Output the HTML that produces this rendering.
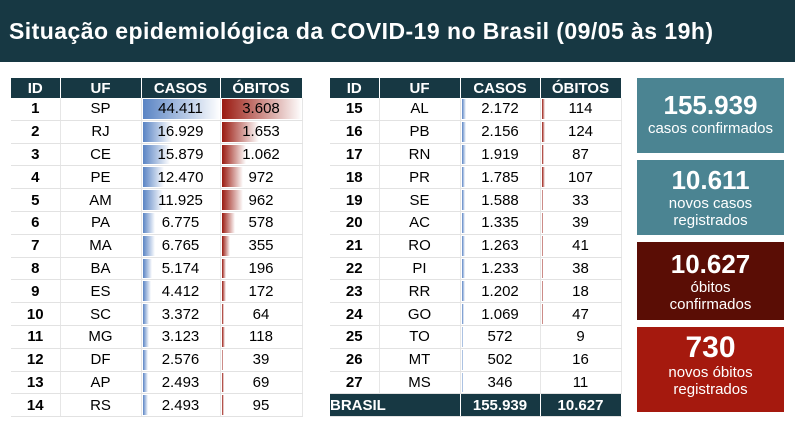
<!DOCTYPE html>
<html><head><meta charset="utf-8"><style>
body{margin:0;width:795px;height:446px;background:#fff;position:relative;overflow:hidden;font-family:"Liberation Sans",sans-serif}
.hdr{position:absolute;left:0;top:0;width:795px;height:62px;background:#173843;color:#fff;font-size:23px;font-weight:bold;line-height:62px;padding-left:9px;box-sizing:border-box;letter-spacing:0.45px}
table{position:absolute;top:78px;border-collapse:collapse;table-layout:fixed;font-size:15px}
td,th{padding:0;text-align:center;height:21.8px;line-height:17px;border-bottom:1px solid #e2e2e2;border-right:1px solid #e6e6e6;position:relative}
th{background:#173843;color:#fff;font-weight:bold;height:20px;border-right:1px solid #fff;border-bottom:none}
td.id{font-weight:bold}
.b{position:absolute;left:1px;top:1px;bottom:1px}
.bl{background:linear-gradient(to right,#5a84c4,#fff)}
.rd{background:linear-gradient(to right,#9a1a10,#fff)}
td span{position:relative}
tr.tot td{background:#173843;color:#fff;font-weight:bold;border-right:1px solid #fff}
.box{position:absolute;left:637px;width:147px;color:#fff;text-align:center;font-size:15px;line-height:17px}
.box b{display:block;font-size:26px;line-height:29px}
</style></head><body>
<div class="hdr">Situação epidemiológica da COVID-19 no Brasil (09/05 às 19h)</div>

<table style="left:11px;width:291px">
<colgroup><col style="width:49px"><col style="width:81px"><col style="width:79px"><col style="width:82px"></colgroup>
<tr><th>ID</th><th>UF</th><th>CASOS</th><th>ÓBITOS</th></tr>
<tr><td class="id">1</td><td>SP</td><td><div class="b bl" style="width:77px"></div><span>44.411</span></td><td><div class="b rd" style="width:80px"></div><span>3.608</span></td></tr>
<tr><td class="id">2</td><td>RJ</td><td><div class="b bl" style="width:29px"></div><span>16.929</span></td><td><div class="b rd" style="width:37px"></div><span>1.653</span></td></tr>
<tr><td class="id">3</td><td>CE</td><td><div class="b bl" style="width:27px"></div><span>15.879</span></td><td><div class="b rd" style="width:24px"></div><span>1.062</span></td></tr>
<tr><td class="id">4</td><td>PE</td><td><div class="b bl" style="width:21px"></div><span>12.470</span></td><td><div class="b rd" style="width:21px"></div><span>972</span></td></tr>
<tr><td class="id">5</td><td>AM</td><td><div class="b bl" style="width:20px"></div><span>11.925</span></td><td><div class="b rd" style="width:21px"></div><span>962</span></td></tr>
<tr><td class="id">6</td><td>PA</td><td><div class="b bl" style="width:12px"></div><span>6.775</span></td><td><div class="b rd" style="width:13px"></div><span>578</span></td></tr>
<tr><td class="id">7</td><td>MA</td><td><div class="b bl" style="width:12px"></div><span>6.765</span></td><td><div class="b rd" style="width:8px"></div><span>355</span></td></tr>
<tr><td class="id">8</td><td>BA</td><td><div class="b bl" style="width:9px"></div><span>5.174</span></td><td><div class="b rd" style="width:4px"></div><span>196</span></td></tr>
<tr><td class="id">9</td><td>ES</td><td><div class="b bl" style="width:8px"></div><span>4.412</span></td><td><div class="b rd" style="width:4px"></div><span>172</span></td></tr>
<tr><td class="id">10</td><td>SC</td><td><div class="b bl" style="width:6px"></div><span>3.372</span></td><td><div class="b rd" style="width:2px"></div><span>64</span></td></tr>
<tr><td class="id">11</td><td>MG</td><td><div class="b bl" style="width:6px"></div><span>3.123</span></td><td><div class="b rd" style="width:3px"></div><span>118</span></td></tr>
<tr><td class="id">12</td><td>DF</td><td><div class="b bl" style="width:5px"></div><span>2.576</span></td><td><div class="b rd" style="width:1px"></div><span>39</span></td></tr>
<tr><td class="id">13</td><td>AP</td><td><div class="b bl" style="width:5px"></div><span>2.493</span></td><td><div class="b rd" style="width:2px"></div><span>69</span></td></tr>
<tr><td class="id">14</td><td>RS</td><td><div class="b bl" style="width:5px"></div><span>2.493</span></td><td><div class="b rd" style="width:2px"></div><span>95</span></td></tr>
</table>

<table style="left:330px;width:291px">
<colgroup><col style="width:49px"><col style="width:81px"><col style="width:80px"><col style="width:81px"></colgroup>
<tr><th>ID</th><th>UF</th><th>CASOS</th><th>ÓBITOS</th></tr>
<tr><td class="id">15</td><td>AL</td><td><div class="b bl" style="width:4px"></div><span>2.172</span></td><td><div class="b rd" style="width:3px"></div><span>114</span></td></tr>
<tr><td class="id">16</td><td>PB</td><td><div class="b bl" style="width:4px"></div><span>2.156</span></td><td><div class="b rd" style="width:3px"></div><span>124</span></td></tr>
<tr><td class="id">17</td><td>RN</td><td><div class="b bl" style="width:4px"></div><span>1.919</span></td><td><div class="b rd" style="width:2px"></div><span>87</span></td></tr>
<tr><td class="id">18</td><td>PR</td><td><div class="b bl" style="width:3px"></div><span>1.785</span></td><td><div class="b rd" style="width:3px"></div><span>107</span></td></tr>
<tr><td class="id">19</td><td>SE</td><td><div class="b bl" style="width:3px"></div><span>1.588</span></td><td><div class="b rd" style="width:1px"></div><span>33</span></td></tr>
<tr><td class="id">20</td><td>AC</td><td><div class="b bl" style="width:3px"></div><span>1.335</span></td><td><div class="b rd" style="width:1px"></div><span>39</span></td></tr>
<tr><td class="id">21</td><td>RO</td><td><div class="b bl" style="width:3px"></div><span>1.263</span></td><td><div class="b rd" style="width:1px"></div><span>41</span></td></tr>
<tr><td class="id">22</td><td>PI</td><td><div class="b bl" style="width:3px"></div><span>1.233</span></td><td><div class="b rd" style="width:1px"></div><span>38</span></td></tr>
<tr><td class="id">23</td><td>RR</td><td><div class="b bl" style="width:3px"></div><span>1.202</span></td><td><div class="b rd" style="width:1px"></div><span>18</span></td></tr>
<tr><td class="id">24</td><td>GO</td><td><div class="b bl" style="width:2px"></div><span>1.069</span></td><td><div class="b rd" style="width:1px"></div><span>47</span></td></tr>
<tr><td class="id">25</td><td>TO</td><td><div class="b bl" style="width:1px"></div><span>572</span></td><td><span>9</span></td></tr>
<tr><td class="id">26</td><td>MT</td><td><div class="b bl" style="width:1px"></div><span>502</span></td><td><span>16</span></td></tr>
<tr><td class="id">27</td><td>MS</td><td><div class="b bl" style="width:1px"></div><span>346</span></td><td><span>11</span></td></tr>
<tr class="tot"><td colspan="2" style="text-align:left;border-right:1px solid #fff">BRASIL</td><td>155.939</td><td>10.627</td></tr>
</table>

<div class="box" style="top:78px;height:75px;background:#4b8492"><div style="padding-top:13px"><b>155.939</b>casos confirmados</div></div>
<div class="box" style="top:160px;height:75px;background:#4b8492"><div style="padding-top:6px"><b>10.611</b>novos casos<br>registrados</div></div>
<div class="box" style="top:242px;height:78px;background:#5a0d05"><div style="padding-top:8px"><b>10.627</b>óbitos<br>confirmados</div></div>
<div class="box" style="top:327px;height:85px;background:#a5190e"><div style="padding-top:4px"><b style="font-size:30px;line-height:33px">730</b>novos óbitos<br>registrados</div></div>
</body></html>
